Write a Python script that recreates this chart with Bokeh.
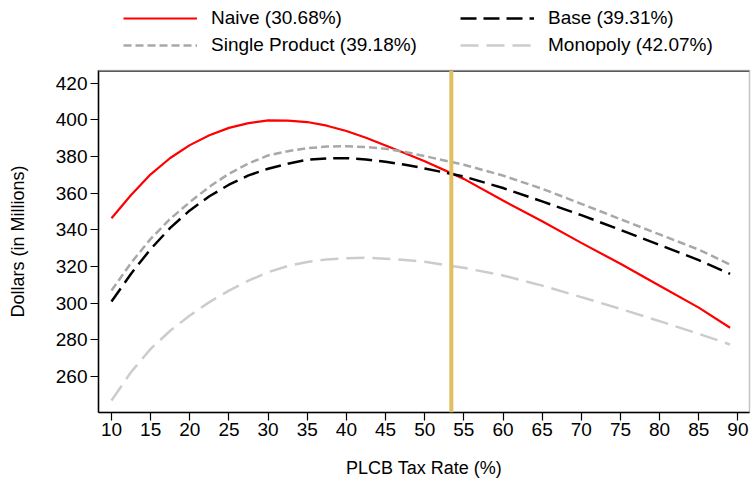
import math
from bokeh.plotting import figure
from bokeh.layouts import column
from bokeh.models import Legend, LegendItem, Span, FixedTicker, Range1d
from bokeh.embed import file_html
from bokeh.resources import INLINE

# ---- data ----
tax_rate = [10, 12.5, 15, 17.5, 20, 22.5, 25, 27.5, 30, 32.5, 35, 37.5, 40,
            42.5, 45, 47.5, 50, 55, 60, 65, 70, 75, 80, 85, 89]
naive = [346.3, 359.0, 370.3, 379.2, 386.2, 391.6, 395.6, 398.2, 399.7, 399.6,
         398.8, 396.8, 393.9, 390.2, 386.0, 381.8, 377.4, 367.8, 356.0, 344.7,
         332.9, 321.5, 309.5, 297.6, 286.6]
base = [300.9, 316.1, 329.5, 341.1, 350.6, 358.3, 364.6, 369.7, 373.3, 376.1,
        378.2, 379.0, 379.1, 378.4, 377.1, 375.5, 373.5, 369.1, 362.8, 355.5,
        348.0, 340.0, 331.8, 323.5, 316.0]
single = [306.9, 322.0, 335.1, 346.0, 355.1, 363.5, 370.6, 376.2, 380.6, 382.9,
          384.5, 385.4, 385.6, 385.2, 384.2, 382.5, 380.2, 375.5, 369.6, 362.4,
          354.2, 345.8, 337.5, 329.2, 321.1]
monopoly = [246.9, 262.5, 275.1, 285.0, 293.3, 300.6, 306.9, 312.3, 316.9,
            320.3, 322.5, 323.9, 324.5, 324.8, 324.2, 323.6, 322.6, 319.3,
            315.1, 309.6, 303.3, 296.9, 290.2, 283.3, 277.5]
current_rate = 53.4

series_labels = ["Naive (30.68%)", "Base (39.31%)",
                 "Single Product (39.18%)", "Monopoly (42.07%)"]
x_ticks = list(range(10, 95, 5))
y_ticks = list(range(260, 440, 20))

FONT = "Liberation Sans"
W = 751

styles = [dict(line_color="#FF0000", line_width=2.2),
          dict(line_color="black", line_width=2.5, line_dash="16 7"),
          dict(line_color="#A8A8A8", line_width=2.5, line_dash="8 4"),
          dict(line_color="#CCCCCC", line_width=2.5, line_dash="18 8")]

# ---- main chart ----
p = figure(width=W, height=422, output_backend="svg", toolbar_location=None,
           x_range=Range1d(8.34, 91.48), y_range=Range1d(240.4, 426.9),
           min_border_left=98, min_border_right=2, min_border_top=8,
           min_border_bottom=72)
p.background_fill_color = "white"
p.border_fill_color = "white"
p.grid.visible = False
p.outline_line_color = "#c4c4c4"
p.outline_line_width = 1.5

for ys, st in zip([naive, base, single, monopoly], styles):
    p.line(tax_rate, ys, **st)

# darker top edge of the plotting box
p.add_layout(Span(location=p.y_range.end, dimension="width",
                  line_color="#5a5a5a", line_width=3))

p.add_layout(Span(location=current_rate, dimension="height",
                  line_color="#DEC062", line_width=4))

for ax in (p.xaxis[0], p.yaxis[0]):
    ax.axis_line_color = "black"
    ax.axis_line_width = 1.5
    ax.major_tick_line_color = "black"
    ax.major_tick_line_width = 1.2
    ax.major_tick_in = 0
    ax.major_tick_out = 8
    ax.minor_tick_line_color = None
    ax.major_label_text_font = FONT
    ax.major_label_text_font_size = "19px"
    ax.major_label_text_color = "black"
    ax.axis_label_text_font = FONT
    ax.axis_label_text_font_size = "18px"
    ax.axis_label_text_font_style = "normal"
    ax.axis_label_text_color = "black"

p.xaxis.ticker = FixedTicker(ticks=x_ticks)
p.yaxis.ticker = FixedTicker(ticks=y_ticks)
p.xaxis.axis_label = "PLCB Tax Rate (%)"
p.yaxis.axis_label = "Dollars (in Millions)"
p.xaxis.major_label_standoff = 2
p.yaxis.major_label_standoff = 3
p.xaxis.axis_label_standoff = 19
p.yaxis.axis_label_standoff = 25

# ---- legend strip above the chart ----
lg = figure(width=W, height=62, output_backend="svg", toolbar_location=None,
            x_range=Range1d(0, 1), y_range=Range1d(0, 1),
            x_axis_type=None, y_axis_type=None,
            min_border_left=0, min_border_right=0, min_border_top=0,
            min_border_bottom=0)
lg.grid.visible = False
lg.outline_line_color = None
lg.background_fill_color = "white"
lg.border_fill_color = "white"

# legend proxies: one undrawable (NaN) point each, used only for the key
proxies = [lg.line(x=[math.nan], y=[math.nan], **st) for st in styles]

legend = Legend(
    items=[LegendItem(label=lab, renderers=[r])
           for lab, r in zip(series_labels, proxies)],
    orientation="horizontal", ncols=2,
    location=(25, 6),
    padding=0, margin=0, spacing=5,
    glyph_width=74, glyph_height=22, label_height=22,
    label_standoff=14, label_width=244,
    label_text_font=FONT, label_text_font_size="19px",
    label_text_color="black",
    border_line_color=None, background_fill_alpha=0,
)
lg.add_layout(legend, "center")

layout = column(lg, p, spacing=0)
open("out.html", "w").write(file_html(layout, INLINE))
